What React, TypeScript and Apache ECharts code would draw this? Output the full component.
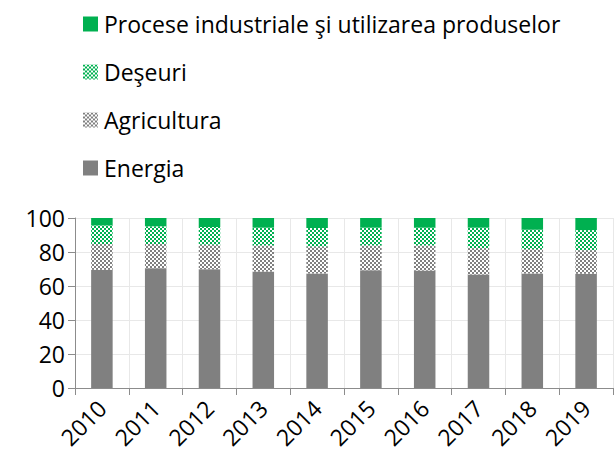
import React, { useEffect, useRef } from "react";
import * as echarts from "echarts";

const years = ["2010", "2011", "2012", "2013", "2014", "2015", "2016", "2017", "2018", "2019"];
const energia = [69.5, 70.5, 69.9, 68.5, 67.4, 69.3, 69.1, 66.8, 67.4, 67.2];
const agricultura = [15.2, 14.2, 14.4, 15.4, 15.9, 14.6, 14.8, 15.5, 14.3, 13.9];
const deseuri = [10.9, 10.4, 10.4, 10.4, 10.8, 10.4, 10.4, 12.0, 11.4, 11.8];
const procese = [4.4, 4.9, 5.3, 5.7, 5.9, 5.7, 5.7, 5.7, 6.9, 7.1];
const yTicks = [0, 20, 40, 60, 80, 100];

const names = {
  procese: "Procese industriale şi utilizarea produselor",
  deseuri: "Deşeuri",
  agricultura: "Agricultura",
  energia: "Energia",
};

function checker(color: string): HTMLCanvasElement {
  const c = document.createElement("canvas");
  c.width = 4;
  c.height = 4;
  const ctx = c.getContext("2d")!;
  ctx.fillStyle = "#ffffff";
  ctx.fillRect(0, 0, 4, 4);
  ctx.fillStyle = color;
  ctx.fillRect(0, 0, 2, 2);
  ctx.fillRect(2, 2, 2, 2);
  return c;
}

export default function App() {
  const ref = useRef<HTMLDivElement>(null);
  useEffect(() => {
    if (!ref.current) return;
    document.body.style.margin = "0";
    document.body.style.overflow = "hidden";
    const chart = echarts.init(ref.current, undefined, { renderer: "svg" });
    const font = "Open Sans";
    const green = "#00B050";
    const gray = "#808080";
    const greenPat = { image: checker(green), repeat: "repeat" } as any;
    const grayPat = { image: checker(gray), repeat: "repeat" } as any;
    const legendItem = (name: string, center: number) => ({
      left: 83,
      top: center - 14,
      padding: 0,
      orient: "vertical",
      data: [name],
      icon: "rect",
      itemWidth: 15,
      itemHeight: 15,
      itemGap: 0,
      selectedMode: false,
      textStyle: { fontFamily: font, fontSize: 23, color: "#000", lineHeight: 28, padding: [0, 0, 0, 1] },
    });
    chart.setOption({
      animation: false,
      legend: [
        legendItem(names.procese, 24),
        legendItem(names.deseuri, 72),
        legendItem(names.agricultura, 120),
        legendItem(names.energia, 168),
      ],
      grid: { left: 75, right: 3, top: 218, bottom: 71, containLabel: false, outerBoundsMode: "none" },
      xAxis: {
        type: "category",
        data: years,
        boundaryGap: true,
        axisLine: { show: true, lineStyle: { color: "#8c8c8c", width: 1 } },
        axisTick: { show: true, alignWithLabel: false, length: 7, lineStyle: { color: "#8c8c8c" } },
        splitLine: { show: true, interval: 0, lineStyle: { color: "#e8e8e8" } },
        axisLabel: {
          interval: 0,
          rotate: 45,
          fontFamily: font,
          fontSize: 23,
          lineHeight: 24,
          color: "#000",
          margin: 16,
        },
      },
      yAxis: {
        type: "value",
        min: yTicks[0],
        max: yTicks[yTicks.length - 1],
        interval: 20,
        axisLine: { show: true, lineStyle: { color: "#8c8c8c", width: 1 } },
        axisTick: { show: true, length: 7, lineStyle: { color: "#8c8c8c" } },
        splitLine: { show: true, lineStyle: { color: "#e8e8e8" } },
        axisLabel: { fontFamily: font, fontSize: 23, color: "#000", margin: 10 },
      },
      series: [
        { name: names.energia, type: "bar", stack: "a", data: energia, barWidth: "40%", itemStyle: { color: gray } },
        { name: names.agricultura, type: "bar", stack: "a", data: agricultura, barWidth: "40%", itemStyle: { color: grayPat } },
        { name: names.deseuri, type: "bar", stack: "a", data: deseuri, barWidth: "40%", itemStyle: { color: greenPat } },
        { name: names.procese, type: "bar", stack: "a", data: procese, barWidth: "40%", itemStyle: { color: green } },
      ],
    });
    return () => chart.dispose();
  }, []);
  return <div ref={ref} style={{ width: 616, height: 459 }} />;
}
